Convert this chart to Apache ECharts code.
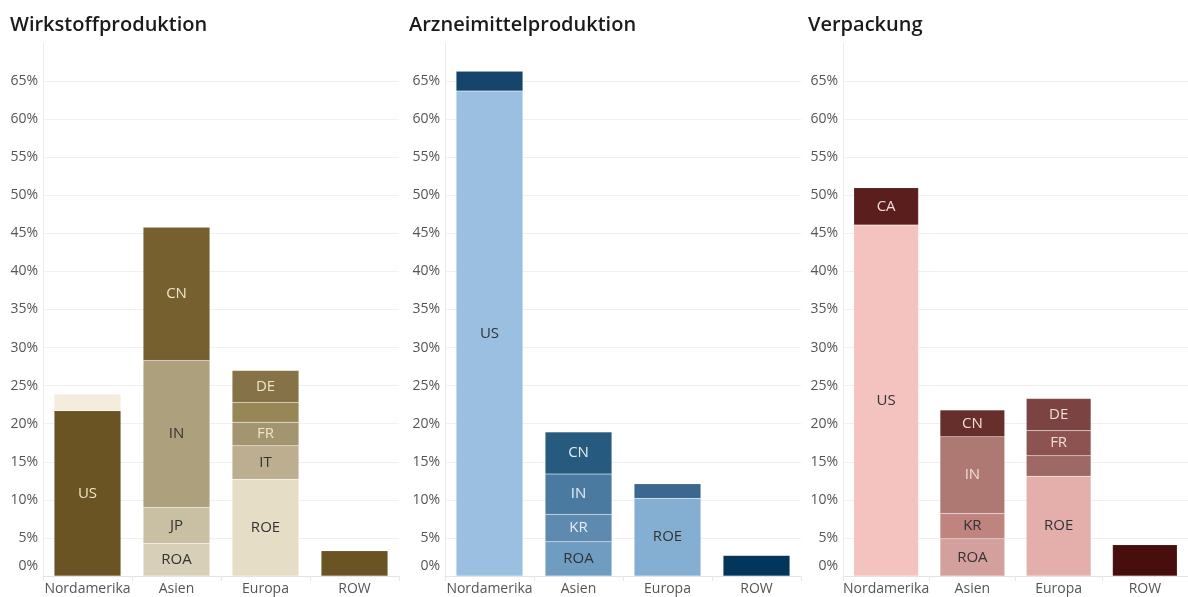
<!DOCTYPE html>
<html><head><meta charset="utf-8">
<script src="https://cdn.jsdelivr.net/npm/echarts@6/dist/echarts.min.js"></script>
<style>html,body{margin:0;padding:0;background:#fff}#c{width:1188px;height:597px}</style>
</head><body><div id="c"></div>
<script>
// ---- data ----
const categories = ['Nordamerika', 'Asien', 'Europa', 'ROW'];
const panelTitles = ['Wirkstoffproduktion', 'Arzneimittelproduktion', 'Verpackung'];

// segment values per category, bottom to top (percent)
const wirkValues = [[21.7, 2.2], [4.3, 4.7, 19.3, 17.5], [12.7, 4.4, 3.1, 2.6, 4.2], [3.3]];
const wirkLabels = [['US', ''], ['ROA', 'JP', 'IN', 'CN'], ['ROE', 'IT', 'FR', '', 'DE'], ['']];

const arzValues = [[63.7, 2.6], [4.5, 3.6, 5.3, 5.5], [10.2, 1.9], [2.7]];
const arzLabels = [['US', ''], ['ROA', 'KR', 'IN', 'CN'], ['ROE', ''], ['']];

const verValues = [[46.1, 4.9], [4.9, 3.3, 10.1, 3.5], [13.1, 2.7, 3.3, 4.2], [4.1]];
const verLabels = [['US', 'CA'], ['ROA', 'KR', 'IN', 'CN'], ['ROE', '', 'FR', 'DE'], ['']];

const yTickValues = [0, 5, 10, 15, 20, 25, 30, 35, 40, 45, 50, 55, 60, 65];

// ---- styles ----
const wirkColors = [['#6b5424', '#f4ecdc'], ['#d8cfb8', '#c9bfa2', '#ada07d', '#766030'], ['#e6ddc7', '#bcae8e', '#a49571', '#978656', '#857246'], ['#6b5424']];
const wirkText = [['L', 'D'], ['D', 'D', 'D', 'L'], ['D', 'D', 'L', 'L', 'L'], ['L']];
const arzColors = [['#9abfe0', '#16456b'], ['#6f9cc1', '#5e8ab0', '#4a7a9f', '#265a7e'], ['#84afd2', '#3a6891'], ['#04365c']];
const arzText = [['D', 'L'], ['D', 'L', 'L', 'L'], ['D', 'L'], ['L']];
const verColors = [['#f5c3bf', '#5a1f1c'], ['#d4a09d', '#c0847f', '#ae7873', '#672f2b'], ['#e4afab', '#9e6864', '#8c5351', '#7b4341'], ['#470e0c']];
const verText = [['D', 'L'], ['D', 'D', 'L', 'L'], ['D', 'L', 'L', 'L'], ['L']];
const lightText = ['#efe4c6', '#e6eef5', '#f2dcd9'];

const panels = [
  {values: wirkValues, labels: wirkLabels, colors: wirkColors, text: wirkText, left: 43, titleLeft: 10},
  {values: arzValues, labels: arzLabels, colors: arzColors, text: arzText, left: 445, titleLeft: 409},
  {values: verValues, labels: verLabels, colors: verColors, text: verText, left: 843, titleLeft: 808}
];

const font = "'Open Sans', 'Noto Sans', sans-serif";
const gridColors = yTickValues.map(() => '#f0f0f0').concat(['rgba(0,0,0,0)']);
const option = {
  animation: false,
  textStyle: {fontFamily: font},
  title: [], grid: [], xAxis: [], yAxis: [], series: []
};

panels.forEach((p, pi) => {
  option.title.push({
    text: panelTitles[pi], left: p.titleLeft, top: 15, padding: 0,
    textStyle: {fontFamily: font, fontSize: 20, fontWeight: 600, color: '#1a1a1a'}
  });
  option.grid.push({left: p.left, width: 356, top: 43, bottom: 21, containLabel: false});
  option.xAxis.push({
    type: 'category', gridIndex: pi, data: categories,
    axisLine: {show: true, lineStyle: {color: '#e4e4e4', width: 1}},
    axisTick: {show: true, length: 5, lineStyle: {color: '#e8e8e8'}},
    axisLabel: {color: '#555', fontSize: 14, margin: 6, interval: 0, fontFamily: font}
  });
  option.yAxis.push({
    type: 'value', gridIndex: pi, min: 0, max: 70, interval: 5,
    axisLine: {show: true, lineStyle: {color: '#ececec'}},
    axisTick: {show: false},
    splitLine: {show: true, lineStyle: {color: gridColors}},
    axisLabel: {
      color: '#555', fontSize: 14, margin: 5, fontFamily: font,
      formatter: v => (yTickValues.indexOf(v) < 0 ? '' : (v === 0 ? '{z|0%}' : v + '%')),
      rich: {z: {color: '#555', fontSize: 14, fontFamily: font, padding: [0, 0, 20, 0]}}
    }
  });
  const maxLevels = Math.max(...p.values.map(a => a.length));
  for (let k = 0; k < maxLevels; k++) {
    const data = categories.map((c, ci) => {
      const v = p.values[ci][k];
      if (v === undefined) return '-';
      return {
        value: v,
        itemStyle: {color: p.colors[ci][k]},
        label: {formatter: p.labels[ci][k], color: p.text[ci][k] === 'L' ? lightText[pi] : '#333'}
      };
    });
    option.series.push({
      type: 'bar', xAxisIndex: pi, yAxisIndex: pi, stack: 'p' + pi,
      barCategoryGap: '25%', data,
      itemStyle: {borderColor: 'rgba(255,255,255,0.2)', borderWidth: 0.5},
      label: {show: true, position: 'inside', fontSize: 15, fontFamily: font},
      emphasis: {disabled: true}
    });
  }
});

const chart = echarts.init(document.getElementById('c'), null, {renderer: 'canvas'});
chart.setOption(option);
</script></body></html>
